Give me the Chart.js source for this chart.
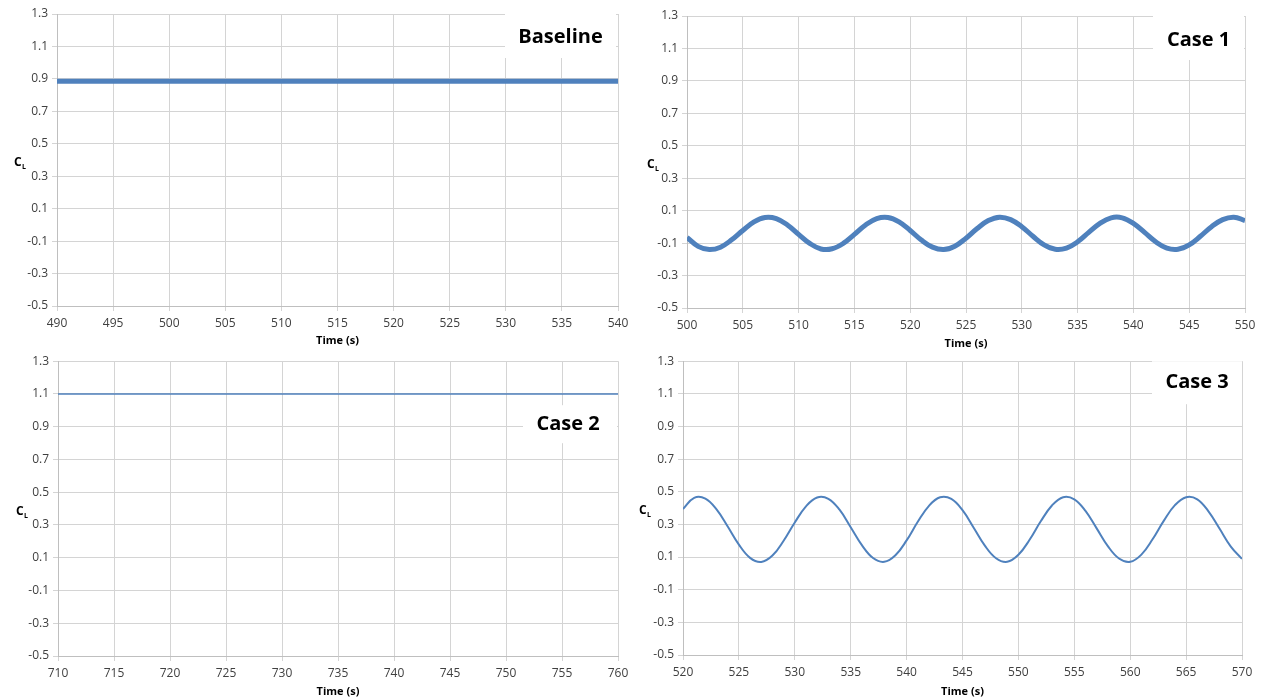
<!DOCTYPE html>
<html>
<head>
<meta charset="utf-8">
<script src="https://cdn.jsdelivr.net/npm/chart.js@4.4.1/dist/chart.umd.min.js"></script>
<style>
  html, body { margin: 0; padding: 0; background: #fff; }
  .panel { position: absolute; }
</style>
</head>
<body>
<div class="panel" style="left:0;top:0;width:634px;height:350px"><canvas id="baseline"></canvas></div>
<div class="panel" style="left:630px;top:0;width:636px;height:350px"><canvas id="case1"></canvas></div>
<div class="panel" style="left:0;top:350px;width:634px;height:348px"><canvas id="case2"></canvas></div>
<div class="panel" style="left:630px;top:350px;width:636px;height:348px"><canvas id="case3"></canvas></div>
<script>
// lift coefficient tick labels (shared by all panels)
const clTicks = [-0.5, -0.3, -0.1, 0.1, 0.3, 0.5, 0.7, 0.9, 1.1, 1.3];

// Baseline
const baselineTicks = [490, 495, 500, 505, 510, 515, 520, 525, 530, 535, 540];
const baselineTime = [490, 495, 500, 505, 510, 515, 520, 525, 530, 535, 540];
const baselineCl = [0.885, 0.885, 0.885, 0.885, 0.885, 0.885, 0.885, 0.885, 0.885, 0.885, 0.885];

// Case 1
const case1Ticks = [500, 505, 510, 515, 520, 525, 530, 535, 540, 545, 550];
const case1Time = [500, 501, 502, 503, 504, 505, 506, 507, 508, 509,
                   510, 511, 512, 513, 514, 515, 516, 517, 518, 519,
                   520, 521, 522, 523, 524, 525, 526, 527, 528, 529,
                   530, 531, 532, 533, 534, 535, 536, 537, 538, 539,
                   540, 541, 542, 543, 544, 545, 546, 547, 548, 549, 550];
const case1Cl = [-0.065, -0.12, -0.14, -0.125, -0.08, -0.022, 0.031, 0.058, 0.051, 0.012,
                 -0.046, -0.102, -0.136, -0.135, -0.102, -0.046, 0.012, 0.051, 0.058, 0.031,
                 -0.022, -0.081, -0.125, -0.14, -0.119, -0.07, -0.01, 0.039, 0.06, 0.045,
                 0.001, -0.058, -0.111, -0.138, -0.131, -0.092, -0.034, 0.022, 0.056, 0.056,
                 0.022, -0.034, -0.092, -0.131, -0.138, -0.111, -0.058, 0.001, 0.045, 0.06, 0.039];

// Case 2
const case2Ticks = [710, 715, 720, 725, 730, 735, 740, 745, 750, 755, 760];
const case2Time = [710, 715, 720, 725, 730, 735, 740, 745, 750, 755, 760];
const case2Cl = [1.1, 1.1, 1.1, 1.1, 1.1, 1.1, 1.1, 1.1, 1.1, 1.1, 1.1];

// Case 3
const case3Ticks = [520, 525, 530, 535, 540, 545, 550, 555, 560, 565, 570];
const case3Time = [520, 521, 522, 523, 524, 525, 526, 527, 528, 529,
                   530, 531, 532, 533, 534, 535, 536, 537, 538, 539,
                   540, 541, 542, 543, 544, 545, 546, 547, 548, 549,
                   550, 551, 552, 553, 554, 555, 556, 557, 558, 559,
                   560, 561, 562, 563, 564, 565, 566, 567, 568, 569, 570];
const case3Cl = [0.395, 0.463, 0.458, 0.392, 0.287, 0.176, 0.095, 0.07, 0.109, 0.2,
                 0.312, 0.411, 0.465, 0.457, 0.39, 0.283, 0.173, 0.094, 0.071, 0.111,
                 0.202, 0.316, 0.414, 0.466, 0.456, 0.387, 0.28, 0.17, 0.093, 0.071,
                 0.114, 0.206, 0.319, 0.416, 0.467, 0.454, 0.383, 0.276, 0.167, 0.091,
                 0.071, 0.115, 0.209, 0.322, 0.418, 0.467, 0.454, 0.38, 0.273, 0.164, 0.089];

const blue = '#4f81bd';
const gridColor = '#d4d4d4';
const tickFont = { family: 'Open Sans', size: 12 };

// C_L axis label and the case name box in the corner
const panelDecor = {
  id: 'panelDecor',
  beforeDatasetsDraw(chart, args, o) {
    const { ctx, chartArea: a } = chart;
    ctx.save();
    const b = o.box;
    const x0 = a.right - b.r - b.w, y0 = a.top + b.t;
    ctx.fillStyle = '#fff';
    ctx.fillRect(x0, y0, b.w, b.h);
    ctx.fillStyle = '#000';
    ctx.font = 'bold 20px "Open Sans"';
    ctx.textAlign = 'center';
    ctx.textBaseline = 'middle';
    ctx.fillText(o.label, x0 + b.w / 2 + (b.dx || 0), y0 + b.h / 2 + (b.dy || 0));

    const cx = a.left - o.clOffset, cy = (a.top + a.bottom) / 2 + 6;
    ctx.textAlign = 'left';
    ctx.textBaseline = 'alphabetic';
    ctx.font = 'bold 12px "Open Sans"';
    ctx.fillText('C', cx, cy);
    ctx.font = 'bold 7px "Open Sans"';
    ctx.fillText('L', cx + 8, cy + 3);
    ctx.restore();
  }
};

function makeChart(id, times, values, xTicks, opt) {
  const points = times.map((t, i) => ({ x: t, y: values[i] }));
  return new Chart(document.getElementById(id), {
    type: 'line',
    data: {
      datasets: [{
        data: points,
        borderColor: blue,
        borderWidth: opt.lineWidth,
        pointRadius: 0,
        tension: 0.4,
        fill: false
      }]
    },
    options: {
      responsive: true,
      maintainAspectRatio: false,
      animation: false,
      layout: { padding: { top: opt.top, right: opt.right, left: 0, bottom: 0 } },
      plugins: {
        legend: { display: false },
        tooltip: { enabled: false },
        panelDecor: { label: opt.label, box: opt.box, clOffset: opt.clOffset }
      },
      scales: {
        x: {
          type: 'linear',
          min: xTicks[0],
          max: xTicks[xTicks.length - 1],
          afterBuildTicks: s => { s.ticks = xTicks.map(v => ({ value: v })); },
          afterFit: s => { s.height = opt.xHeight; },
          grid: { color: gridColor, tickLength: 5 },
          border: { color: '#bfbfbf' },
          ticks: { color: '#404040', font: tickFont, padding: 5, maxRotation: 0 },
          title: {
            display: true,
            text: 'Time (s)',
            color: '#000',
            font: { family: 'Open Sans', size: 11, weight: 'bold' },
            padding: { top: 0, bottom: opt.titlePad }
          }
        },
        y: {
          min: clTicks[0],
          max: clTicks[clTicks.length - 1],
          afterBuildTicks: s => { s.ticks = clTicks.map(v => ({ value: v })); },
          afterFit: s => { s.width = opt.yWidth; },
          grid: { color: gridColor, tickLength: 5 },
          border: { color: '#bfbfbf' },
          ticks: {
            color: '#404040',
            font: tickFont,
            padding: 4,
            callback: v => v.toFixed(1)
          }
        }
      }
    },
    plugins: [panelDecor]
  });
}

makeChart('baseline', baselineTime, baselineCl, baselineTicks, {
  lineWidth: 5, top: 14, right: 16, yWidth: 57, xHeight: 44, titlePad: 3,
  clOffset: 43, label: 'Baseline', box: { r: 2, w: 111, t: 0, h: 44, dy: 1 }
});
makeChart('case1', case1Time, case1Cl, case1Ticks, {
  lineWidth: 5, top: 16, right: 21, yWidth: 57, xHeight: 42, titlePad: 0,
  clOffset: 40, label: 'Case 1', box: { r: 1, w: 91, t: 0, h: 44, dy: 2 }
});
makeChart('case2', case2Time, case2Cl, case2Ticks, {
  lineWidth: 1.5, top: 11, right: 16, yWidth: 58, xHeight: 42, titlePad: 0,
  clOffset: 42, label: 'Case 2', box: { r: 1, w: 94, t: 44, h: 38, dx: -2 }
});
makeChart('case3', case3Time, case3Cl, case3Ticks, {
  lineWidth: 2, top: 9, right: 24, yWidth: 53, xHeight: 43, titlePad: 0,
  clOffset: 44, label: 'Case 3', box: { r: 0, w: 90, t: 0, h: 43 }
});
</script>
</body>
</html>
